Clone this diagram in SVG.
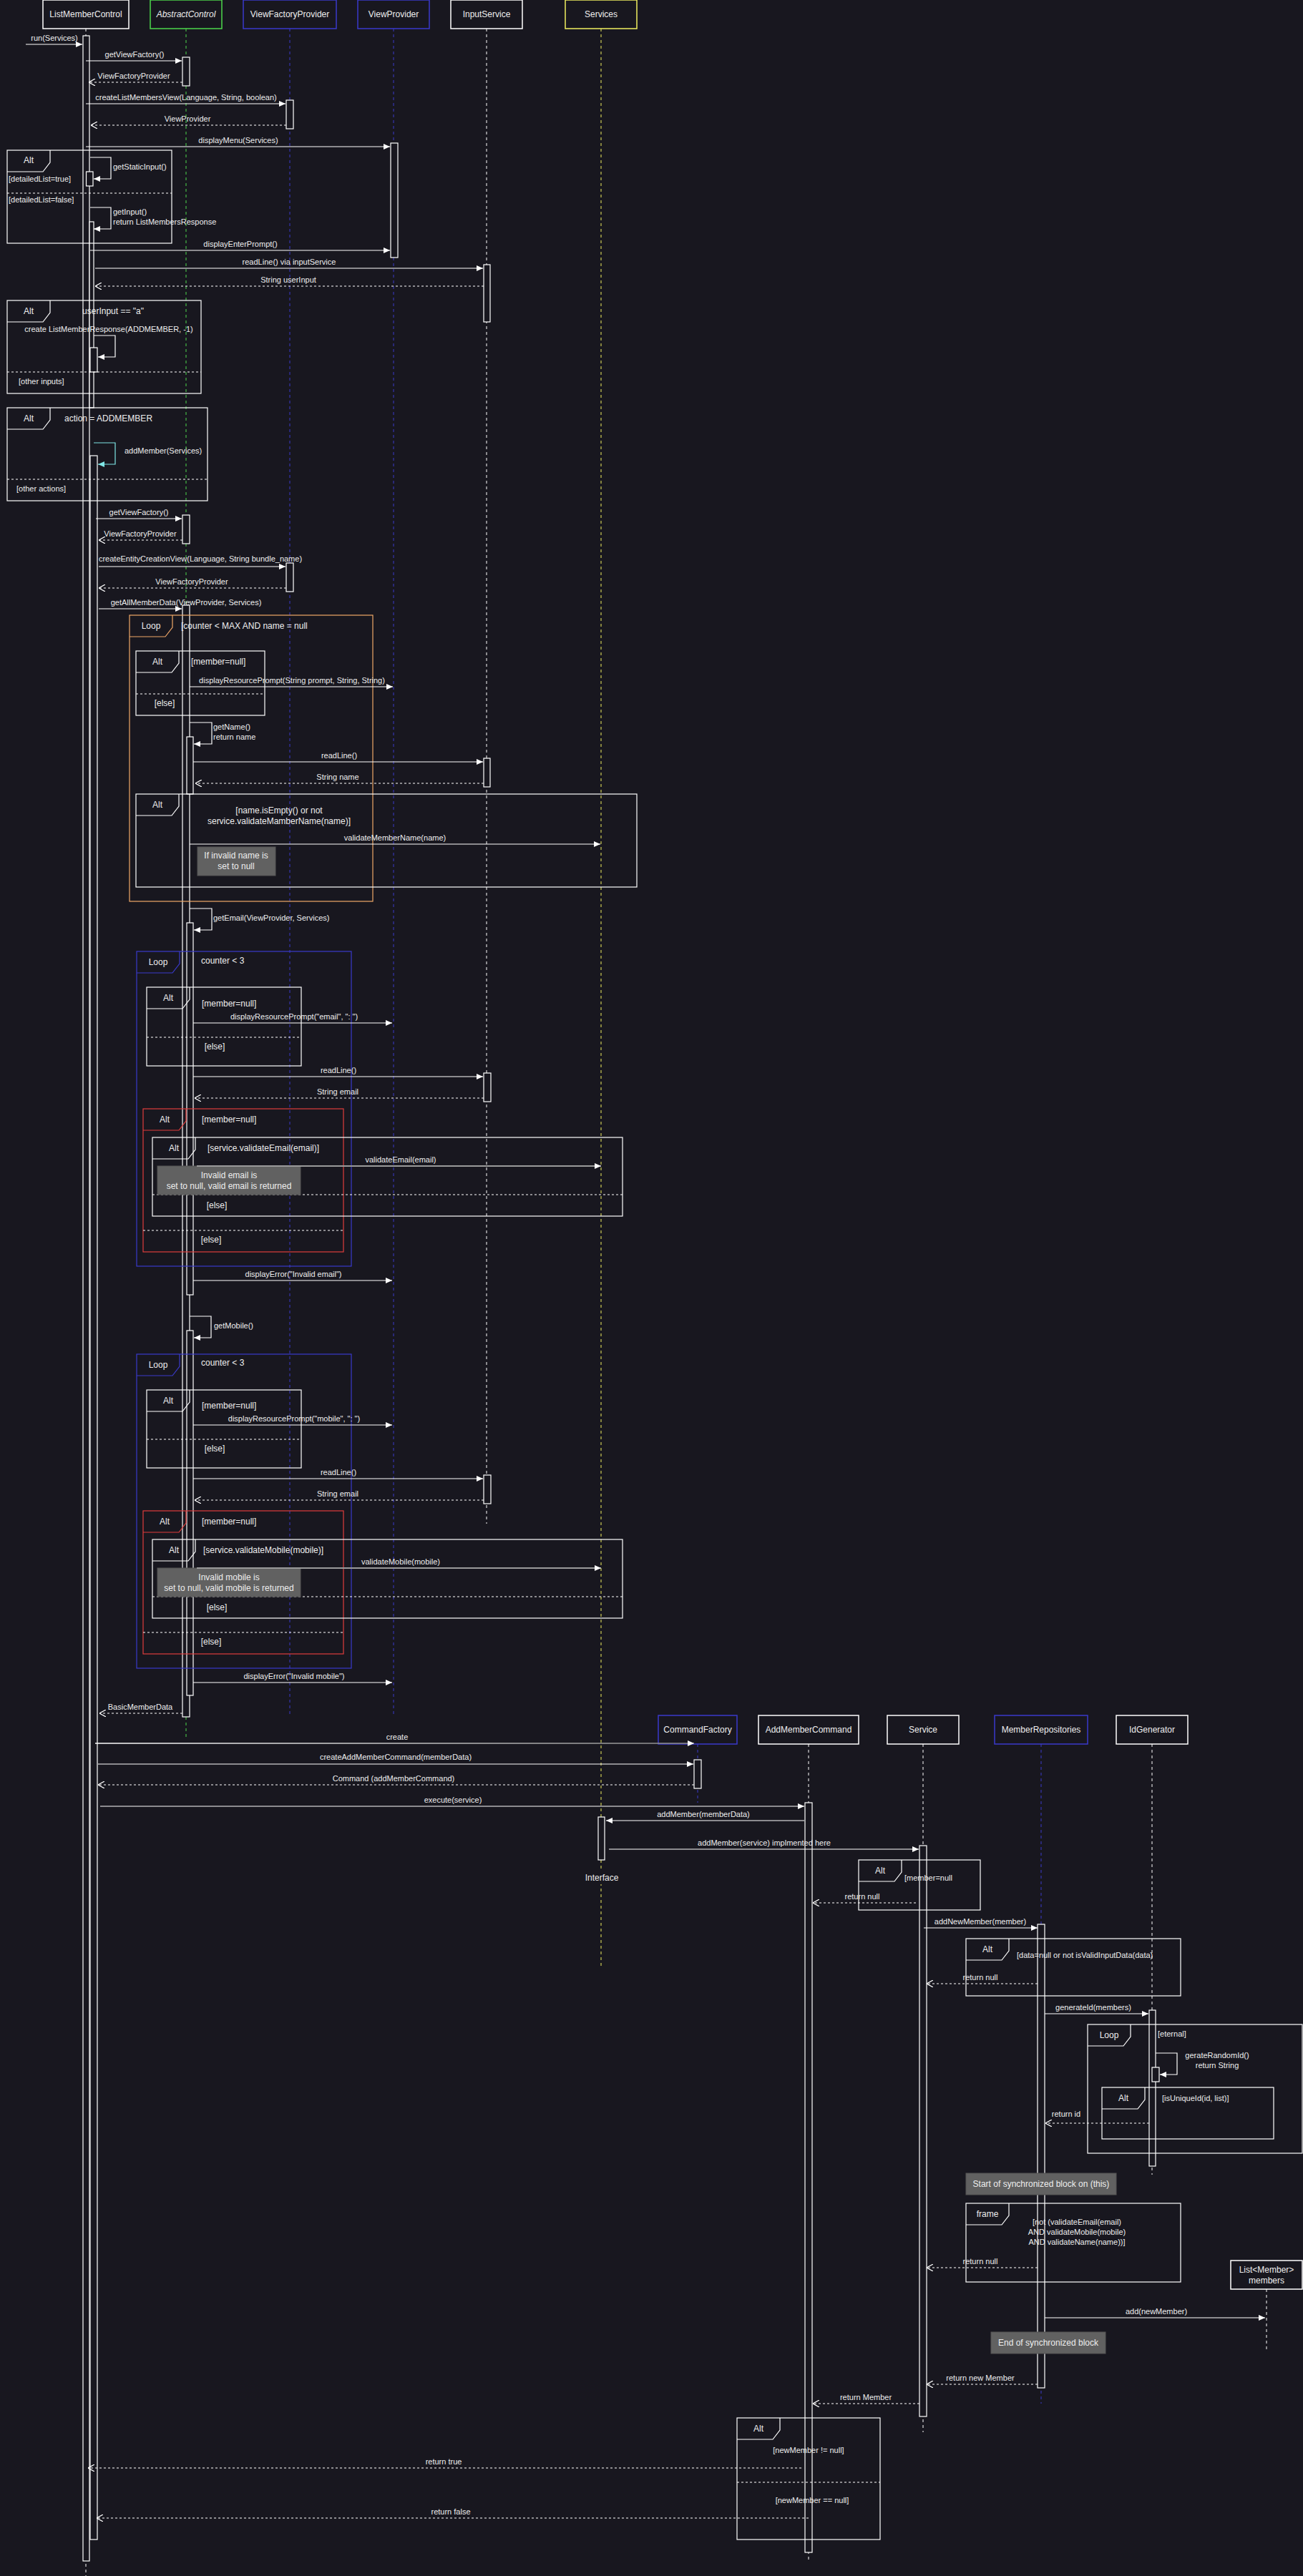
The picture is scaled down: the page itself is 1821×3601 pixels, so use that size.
<svg xmlns="http://www.w3.org/2000/svg" width="1821" height="3601" viewBox="0 0 1821 3601">
<defs>
<style>
text{font-family:"Liberation Sans",Arial,sans-serif;fill:#eeeeee}
.h{font-size:12px;text-anchor:middle}
.m{font-size:11px;text-anchor:middle}
.ms{font-size:11px}
.c{font-size:12px}
.cm{font-size:12px;text-anchor:middle}
.hdr{fill:#18171f;stroke-width:1.5}
.ll{stroke-dasharray:4 4;stroke-width:1;fill:none}
.act{fill:#18171f;stroke:#ffffff;stroke-width:1.2}
.fr{fill:none;stroke:#ffffff;stroke-width:1.2}
.sep{stroke:#ffffff;stroke-width:1.2;stroke-dasharray:3 3}
.msg{stroke:#ffffff;stroke-width:1.2;fill:none;marker-end:url(#solid)}
.ret{stroke:#ffffff;stroke-width:1.2;stroke-dasharray:3 3;fill:none;marker-end:url(#open)}
.note{fill:#616161;stroke:#555555}
</style>
<marker id="solid" markerWidth="9" markerHeight="8" refX="9" refY="4" orient="auto" markerUnits="userSpaceOnUse"><path d="M0,0 L9,4 L0,8 z" fill="#ffffff"/></marker>
<marker id="solidC" markerWidth="9" markerHeight="8" refX="9" refY="4" orient="auto" markerUnits="userSpaceOnUse"><path d="M0,0 L9,4 L0,8 z" fill="#7fe6e6"/></marker>
<marker id="open" markerWidth="9" markerHeight="10" refX="9" refY="5" orient="auto" markerUnits="userSpaceOnUse"><path d="M0,0 L9,5 L0,10" fill="none" stroke="#ffffff" stroke-width="1.2"/></marker>
<linearGradient id="gcreate" gradientUnits="userSpaceOnUse" x1="133" y1="0" x2="970" y2="0"><stop offset="0" stop-color="#ffffff"/><stop offset="1" stop-color="#8a8a8a"/></linearGradient>
</defs>
<rect x="0" y="0" width="1821" height="3601" fill="#18171f"/>

<!-- lifelines -->
<g id="node-ListMemberControl">
<line x1="120" y1="40" x2="120" y2="3601" class="ll" stroke="#ffffff"/>
<rect x="60" y="0" width="120" height="40" class="hdr" stroke="#ffffff"/>
<text x="120" y="24" class="h">ListMemberControl</text>
</g>
<g id="node-AbstractControl">
<line x1="260" y1="40" x2="260" y2="2430" class="ll" stroke="#4cd94c"/>
<rect x="210" y="0" width="100" height="40" class="hdr" stroke="#4cd94c"/>
<text x="260" y="24" class="h" font-style="italic">AbstractControl</text>
</g>
<g id="node-ViewFactoryProvider">
<line x1="405" y1="40" x2="405" y2="2400" class="ll" stroke="#3a3acc"/>
<rect x="340" y="0" width="130" height="40" class="hdr" stroke="#3a3acc"/>
<text x="405" y="24" class="h">ViewFactoryProvider</text>
</g>
<g id="node-ViewProvider">
<line x1="550" y1="40" x2="550" y2="2400" class="ll" stroke="#3a3acc"/>
<rect x="500" y="0" width="100" height="40" class="hdr" stroke="#3a3acc"/>
<text x="550" y="24" class="h">ViewProvider</text>
</g>
<g id="node-InputService">
<line x1="680" y1="40" x2="680" y2="2130" class="ll" stroke="#ffffff"/>
<rect x="630" y="0" width="100" height="40" class="hdr" stroke="#ffffff"/>
<text x="680" y="24" class="h">InputService</text>
</g>
<g id="node-Services">
<line x1="840" y1="40" x2="840" y2="2750" class="ll" stroke="#f0f060"/>
<rect x="790" y="0" width="100" height="40" class="hdr" stroke="#f0f060"/>
<text x="840" y="24" class="h">Services</text>
</g>
<g id="node-CommandFactory">
<line x1="975" y1="2438" x2="975" y2="2520" class="ll" stroke="#3a3acc"/>
<rect x="920" y="2398" width="110" height="40" class="hdr" stroke="#3a3acc"/>
<text x="975" y="2422" class="h">CommandFactory</text>
</g>
<g id="node-AddMemberCommand">
<line x1="1130" y1="2438" x2="1130" y2="3580" class="ll" stroke="#ffffff"/>
<rect x="1060" y="2398" width="140" height="40" class="hdr" stroke="#ffffff"/>
<text x="1130" y="2422" class="h">AddMemberCommand</text>
</g>
<g id="node-Service">
<line x1="1290" y1="2438" x2="1290" y2="3400" class="ll" stroke="#ffffff"/>
<rect x="1240" y="2398" width="100" height="40" class="hdr" stroke="#ffffff"/>
<text x="1290" y="2422" class="h">Service</text>
</g>
<g id="node-MemberRepositories">
<line x1="1455" y1="2438" x2="1455" y2="3360" class="ll" stroke="#3a3acc"/>
<rect x="1390" y="2398" width="130" height="40" class="hdr" stroke="#3a3acc"/>
<text x="1455" y="2422" class="h">MemberRepositories</text>
</g>
<g id="node-IdGenerator">
<line x1="1610" y1="2438" x2="1610" y2="3040" class="ll" stroke="#ffffff"/>
<rect x="1560" y="2398" width="100" height="40" class="hdr" stroke="#ffffff"/>
<text x="1610" y="2422" class="h">IdGenerator</text>
</g>
<g id="node-ListMembers">
<line x1="1770" y1="3200" x2="1770" y2="3287" class="ll" stroke="#ffffff"/>
<rect x="1720" y="3160" width="100" height="40" class="hdr" stroke="#ffffff"/>
<text x="1770" y="3177" class="h">List&lt;Member&gt;</text>
<text x="1770" y="3192" class="h">members</text>
</g>
<g id="node-Interface">
<rect x="812" y="2614" width="58" height="20" fill="#18171f"/>
<text x="841" y="2629" class="h">Interface</text>
</g>

<!-- activations -->
<g id="activations">
<rect x="116" y="50" width="9" height="3530" class="act"/>
<rect x="120.5" y="240" width="9.5" height="20" class="act"/>
<rect x="125" y="310" width="6" height="260" class="act"/>
<rect x="126" y="486" width="10" height="34" class="act"/>
<rect x="126" y="637" width="10" height="2913" class="act" stroke="#7fe6e6"/>
<rect x="255" y="80" width="10" height="40" class="act"/>
<rect x="400" y="140" width="10" height="40" class="act"/>
<rect x="546" y="200" width="10" height="160" class="act"/>
<rect x="676" y="370" width="9" height="80" class="act"/>
<rect x="255" y="720" width="10" height="40" class="act"/>
<rect x="400" y="787" width="10" height="40" class="act"/>
<rect x="255" y="846" width="10" height="1554" class="act"/>
<rect x="261" y="1030" width="9" height="80" class="act"/>
<rect x="676" y="1060" width="9" height="40" class="act"/>
<rect x="261" y="1290" width="9" height="520" class="act" stroke="#7fe6e6"/>
<rect x="676" y="1500" width="10" height="40" class="act"/>
<rect x="261" y="1860" width="9" height="510" class="act" stroke="#e0508a"/>
<rect x="676" y="2062" width="10" height="40" class="act"/>
<rect x="970" y="2460" width="10" height="40" class="act"/>
<rect x="1125" y="2520" width="10" height="1048" class="act"/>
<rect x="836" y="2540" width="9" height="60" class="act"/>
<rect x="1285" y="2580" width="10" height="798" class="act"/>
<rect x="1450" y="2690" width="10" height="648" class="act"/>
<rect x="1606" y="2810" width="9" height="218" class="act"/>
<rect x="1610" y="2890" width="10" height="20" class="act"/>
</g>

<!-- frames -->
<g id="frames">
<g id="f1"><rect x="10" y="210" width="230" height="130" class="fr"/><path d="M10,240 H60 L70,227 V210" class="fr"/><text x="40" y="228" class="h">Alt</text>
<line x1="10" y1="270" x2="240" y2="270" class="sep"/>
<text x="12" y="254" class="ms">[detailedList=true]</text><text x="12" y="283" class="ms">[detailedList=false]</text></g>
<g id="f2"><rect x="10" y="420" width="271" height="130" class="fr"/><path d="M10,450 H60 L70,437 V420" class="fr"/><text x="40" y="439" class="h">Alt</text>
<text x="158" y="439" class="cm">userInput == "a"</text>
<line x1="10" y1="520" x2="281" y2="520" class="sep"/><text x="26" y="537" class="ms">[other inputs]</text></g>
<g id="f3"><rect x="10" y="570" width="280" height="130" class="fr"/><path d="M10,600 H60 L70,587 V570" class="fr"/><text x="40" y="589" class="h">Alt</text>
<text x="90" y="589" class="c">action = ADDMEMBER</text>
<line x1="10" y1="670" x2="290" y2="670" class="sep"/><text x="23" y="687" class="ms">[other actions]</text></g>
<g id="f4"><rect x="181" y="860" width="340" height="400" fill="none" stroke="#f0a868" stroke-width="1.2"/><path d="M181,890 H231 L241,877 V860" fill="none" stroke="#f0a868" stroke-width="1.2"/><text x="211" y="879" class="h">Loop</text>
<text x="253" y="879" class="c">[counter &lt; MAX AND name = null</text></g>
<g id="f5"><rect x="190" y="910" width="180" height="90" class="fr"/><path d="M190,940 H240 L250,927 V910" class="fr"/><text x="220" y="929" class="h">Alt</text>
<text x="267" y="929" class="c">[member=null]</text>
<line x1="190" y1="970" x2="370" y2="970" class="sep"/><text x="230" y="987" class="cm">[else]</text></g>
<g id="f6"><rect x="190" y="1110" width="700" height="130" class="fr"/><path d="M190,1140 H240 L250,1127 V1110" class="fr"/><text x="220" y="1129" class="h">Alt</text>
<text x="390" y="1137" class="cm">[name.isEmpty() or not</text><text x="390" y="1152" class="cm">service.validateMamberName(name)]</text></g>
<g id="f7"><rect x="191" y="1330" width="300" height="440" fill="none" stroke="#3a3acc" stroke-width="1.2"/><path d="M191,1360 H241 L251,1347 V1330" fill="none" stroke="#3a3acc" stroke-width="1.2"/><text x="221" y="1349" class="h">Loop</text>
<text x="281" y="1347" class="c">counter &lt; 3</text></g>
<g id="f8"><rect x="205" y="1380" width="216" height="110" class="fr"/><path d="M205,1410 H255 L265,1397 V1380" class="fr"/><text x="235" y="1399" class="h">Alt</text>
<text x="282" y="1407" class="c">[member=null]</text>
<line x1="205" y1="1450" x2="421" y2="1450" class="sep"/><text x="300" y="1467" class="cm">[else]</text></g>
<g id="f9"><rect x="200" y="1550" width="280" height="200" fill="none" stroke="#e03c3c" stroke-width="1.2"/><path d="M200,1580 H250 L260,1567 V1550" fill="none" stroke="#e03c3c" stroke-width="1.2"/><text x="230" y="1569" class="h">Alt</text>
<text x="282" y="1569" class="c">[member=null]</text>
<line x1="200" y1="1720" x2="480" y2="1720" class="sep"/><text x="295" y="1737" class="cm">[else]</text></g>
<g id="f10"><rect x="213" y="1590" width="657" height="110" class="fr"/><path d="M213,1620 H263 L273,1607 V1590" class="fr"/><text x="243" y="1609" class="h">Alt</text>
<text x="290" y="1609" class="c">[service.validateEmail(email)]</text>
<line x1="213" y1="1670" x2="870" y2="1670" class="sep"/><text x="303" y="1689" class="cm">[else]</text></g>
<g id="f11"><rect x="191" y="1893" width="300" height="439" fill="none" stroke="#3a3acc" stroke-width="1.2"/><path d="M191,1923 H241 L251,1910 V1893" fill="none" stroke="#3a3acc" stroke-width="1.2"/><text x="221" y="1912" class="h">Loop</text>
<text x="281" y="1909" class="c">counter &lt; 3</text></g>
<g id="f12"><rect x="205" y="1943" width="216" height="109" class="fr"/><path d="M205,1973 H255 L265,1960 V1943" class="fr"/><text x="235" y="1962" class="h">Alt</text>
<text x="282" y="1969" class="c">[member=null]</text>
<line x1="205" y1="2012" x2="421" y2="2012" class="sep"/><text x="300" y="2029" class="cm">[else]</text></g>
<g id="f13"><rect x="200" y="2112" width="280" height="200" fill="none" stroke="#e03c3c" stroke-width="1.2"/><path d="M200,2142 H250 L260,2129 V2112" fill="none" stroke="#e03c3c" stroke-width="1.2"/><text x="230" y="2131" class="h">Alt</text>
<text x="282" y="2131" class="c">[member=null]</text>
<line x1="200" y1="2282" x2="480" y2="2282" class="sep"/><text x="295" y="2299" class="cm">[else]</text></g>
<g id="f14"><rect x="213" y="2152" width="657" height="110" class="fr"/><path d="M213,2182 H263 L273,2169 V2152" class="fr"/><text x="243" y="2171" class="h">Alt</text>
<text x="284" y="2171" class="c">[service.validateMobile(mobile)]</text>
<line x1="213" y1="2232" x2="870" y2="2232" class="sep"/><text x="303" y="2251" class="cm">[else]</text></g>
<g id="f15"><rect x="1200" y="2600" width="170" height="70" class="fr"/><path d="M1200,2630 H1250 L1260,2617 V2600" class="fr"/><text x="1230" y="2619" class="h">Alt</text>
<text x="1264" y="2629" class="ms">[member=null</text></g>
<g id="f16"><rect x="1350" y="2710" width="300" height="80" class="fr"/><path d="M1350,2740 H1400 L1410,2727 V2710" class="fr"/><text x="1380" y="2729" class="h">Alt</text>
<text x="1421" y="2737" class="ms">[data=null or not isValidInputData(data)</text></g>
<g id="f17"><rect x="1520" y="2830" width="300" height="180" class="fr"/><path d="M1520,2860 H1570 L1580,2847 V2830" class="fr"/><text x="1550" y="2849" class="h">Loop</text>
<text x="1618" y="2847" class="ms">[eternal]</text></g>
<g id="f18"><rect x="1540" y="2918" width="240" height="72" class="fr"/><path d="M1540,2948 H1590 L1600,2935 V2918" class="fr"/><text x="1570" y="2937" class="h">Alt</text>
<text x="1624" y="2937" class="ms">[isUniqueId(id, list)]</text></g>
<g id="f19"><rect x="1350" y="3080" width="300" height="110" class="fr"/><path d="M1350,3110 H1400 L1410,3097 V3080" class="fr"/><text x="1380" y="3099" class="h">frame</text>
<text x="1505" y="3110" class="m">[not (validateEmail(email)</text><text x="1505" y="3124" class="m">AND validateMobile(mobile)</text><text x="1505" y="3138" class="m">AND validateName(name))]</text></g>
<g id="f20"><rect x="1030" y="3380" width="200" height="170" class="fr"/><path d="M1030,3410 H1080 L1090,3397 V3380" class="fr"/><text x="1060" y="3399" class="h">Alt</text>
<text x="1130" y="3429" class="m">[newMember != null]</text>
<line x1="1030" y1="3470" x2="1230" y2="3470" class="sep"/><text x="1135" y="3499" class="m">[newMember == null]</text></g>
</g>

<!-- notes -->
<g id="notes">
<rect x="276" y="1184" width="109" height="40" class="note"/>
<text x="330" y="1200" class="cm">If invalid name is</text><text x="330" y="1215" class="cm">set to null</text>
<rect x="220" y="1630" width="200" height="40" class="note" fill="#6b6b6b"/>
<text x="320" y="1647" class="cm">Invalid email is</text><text x="320" y="1662" class="cm">set to null, valid email is returned</text>
<rect x="220" y="2192" width="200" height="40" class="note" fill="#6b6b6b"/>
<text x="320" y="2209" class="cm">Invalid mobile is</text><text x="320" y="2224" class="cm">set to null, valid mobile is returned</text>
<rect x="1350" y="3038" width="210" height="30" class="note"/>
<text x="1455" y="3057" class="cm">Start of synchronized block on (this)</text>
<rect x="1385" y="3260" width="160" height="30" class="note"/>
<text x="1465" y="3279" class="cm">End of synchronized block</text>
</g>

<!-- connectors -->
<g id="connectors">
<line x1="36" y1="62" x2="115" y2="62" class="msg"/><text x="76" y="57" class="m">run(Services)</text>
<line x1="120" y1="85" x2="254" y2="85" class="msg"/><text x="188" y="80" class="m">getViewFactory()</text>
<line x1="255" y1="115" x2="124" y2="115" class="ret"/><text x="187" y="110" class="m">ViewFactoryProvider</text>
<line x1="120" y1="145" x2="399" y2="145" class="msg"/><text x="260" y="140" class="m">createListMembersView(Language, String, boolean)</text>
<line x1="400" y1="175" x2="127" y2="175" class="ret"/><text x="262" y="170" class="m">ViewProvider</text>
<line x1="120" y1="205" x2="545" y2="205" class="msg"/><text x="333" y="200" class="m">displayMenu(Services)</text>
<path d="M126,220 H155 V250 H131" class="msg"/><text x="158" y="237" class="ms">getStaticInput()</text>
<path d="M126,290 H155 V320 H131" class="msg"/><text x="158" y="300" class="ms">getInput()</text><text x="158" y="314" class="ms">return ListMembersResponse</text>
<line x1="126" y1="350" x2="545" y2="350" class="msg"/><text x="336" y="345" class="m">displayEnterPrompt()</text>
<line x1="133" y1="375" x2="675" y2="375" class="msg"/><text x="404" y="370" class="m">readLine() via inputService</text>
<line x1="676" y1="400" x2="133" y2="400" class="ret"/><text x="403" y="395" class="m">String userInput</text>
<path d="M131,469 H161 V499 H137" class="msg"/><text x="152" y="464" class="m">create ListMemberResponse(ADDMEMBER, -1)</text>
<path d="M131,619 H161 V649 H137" fill="none" stroke="#7fe6e6" stroke-width="1.2" marker-end="url(#solidC)"/><text x="174" y="634" class="ms">addMember(Services)</text>
<line x1="134" y1="725" x2="254" y2="725" class="msg"/><text x="194" y="720" class="m">getViewFactory()</text>
<line x1="255" y1="755" x2="138" y2="755" class="ret"/><text x="196" y="750" class="m">ViewFactoryProvider</text>
<line x1="138" y1="792" x2="399" y2="792" class="msg"/><text x="280" y="785" class="m">createEntityCreationView(Language, String bundle_name)</text>
<line x1="400" y1="822" x2="138" y2="822" class="ret"/><text x="268" y="817" class="m">ViewFactoryProvider</text>
<line x1="138" y1="851" x2="254" y2="851" class="msg"/><text x="260" y="846" class="m">getAllMemberData(ViewProvider, Services)</text>
<line x1="265" y1="960" x2="549" y2="960" class="msg"/><text x="408" y="955" class="m">displayResourcePrompt(String prompt, String, String)</text>
<path d="M265,1010 H296 V1040 H271" class="msg"/><text x="298" y="1020" class="ms">getName()</text><text x="298" y="1034" class="ms">return name</text>
<line x1="270" y1="1065" x2="675" y2="1065" class="msg"/><text x="474" y="1060" class="m">readLine()</text>
<line x1="676" y1="1095" x2="273" y2="1095" class="ret"/><text x="472" y="1090" class="m">String name</text>
<line x1="265" y1="1180" x2="839" y2="1180" class="msg"/><text x="552" y="1175" class="m">validateMemberName(name)</text>
<path d="M265,1270 H296 V1300 H271" class="msg"/><text x="298" y="1287" class="ms">getEmail(ViewProvider, Services)</text>
<line x1="270" y1="1430" x2="548" y2="1430" class="msg"/><text x="411" y="1425" class="m">displayResourcePrompt("email", ": ")</text>
<line x1="270" y1="1505" x2="675" y2="1505" class="msg"/><text x="473" y="1500" class="m">readLine()</text>
<line x1="676" y1="1535" x2="272" y2="1535" class="ret"/><text x="472" y="1530" class="m">String email</text>
<line x1="275" y1="1630" x2="840" y2="1630" stroke="#9a9a9a" stroke-width="2" marker-end="url(#solid)"/><text x="560" y="1625" class="m">validateEmail(email)</text>
<line x1="270" y1="1790" x2="548" y2="1790" class="msg"/><text x="410" y="1785" class="m">displayError("Invalid email")</text>
<path d="M265,1840 H295 V1870 H271" class="msg"/><text x="299" y="1857" class="ms">getMobile()</text>
<line x1="270" y1="1992" x2="548" y2="1992" class="msg"/><text x="411" y="1987" class="m">displayResourcePrompt("mobile", ": ")</text>
<line x1="270" y1="2067" x2="675" y2="2067" class="msg"/><text x="473" y="2062" class="m">readLine()</text>
<line x1="676" y1="2097" x2="272" y2="2097" class="ret"/><text x="472" y="2092" class="m">String email</text>
<line x1="275" y1="2192" x2="840" y2="2192" stroke="#9a9a9a" stroke-width="2" marker-end="url(#solid)"/><text x="560" y="2187" class="m">validateMobile(mobile)</text>
<line x1="270" y1="2352" x2="548" y2="2352" class="msg"/><text x="411" y="2347" class="m">displayError("Invalid mobile")</text>
<line x1="255" y1="2395" x2="139" y2="2395" class="ret"/><text x="196" y="2390" class="m">BasicMemberData</text>
<line x1="133" y1="2437" x2="970" y2="2437" stroke="url(#gcreate)" stroke-width="1.5" marker-end="url(#solid)"/><text x="555" y="2432" class="m">create</text>
<line x1="137" y1="2466" x2="969" y2="2466" class="msg"/><text x="553" y="2460" class="m">createAddMemberCommand(memberData)</text>
<line x1="970" y1="2495" x2="137" y2="2495" class="ret"/><text x="550" y="2490" class="m">Command (addMemberCommand)</text>
<line x1="140" y1="2525" x2="1124" y2="2525" class="msg"/><text x="633" y="2520" class="m">execute(service)</text>
<line x1="1124" y1="2545" x2="847" y2="2545" class="msg"/><text x="983" y="2540" class="m">addMember(memberData)</text>
<line x1="851" y1="2585" x2="1284" y2="2585" class="msg"/><text x="1068" y="2580" class="m">addMember(service) implmented here</text>
<line x1="1280" y1="2660" x2="1136" y2="2660" class="ret"/><text x="1205" y="2655" class="m">return null</text>
<line x1="1291" y1="2695" x2="1450" y2="2695" class="msg"/><text x="1370" y="2690" class="m">addNewMember(member)</text>
<line x1="1450" y1="2773" x2="1295" y2="2773" class="ret"/><text x="1370" y="2768" class="m">return null</text>
<line x1="1460" y1="2815" x2="1605" y2="2815" class="msg"/><text x="1528" y="2810" class="m">generateId(members)</text>
<path d="M1615,2870 H1645 V2900 H1621" class="msg"/><text x="1701" y="2877" class="m">gerateRandomId()</text><text x="1701" y="2891" class="m">return String</text>
<line x1="1606" y1="2968" x2="1461" y2="2968" class="ret"/><text x="1490" y="2959" class="m">return id</text>
<line x1="1450" y1="3170" x2="1295" y2="3170" class="ret"/><text x="1370" y="3165" class="m">return null</text>
<line x1="1460" y1="3240" x2="1768" y2="3240" class="msg"/><text x="1616" y="3235" class="m">add(newMember)</text>
<line x1="1450" y1="3333" x2="1295" y2="3333" class="ret"/><text x="1370" y="3328" class="m">return new Member</text>
<line x1="1285" y1="3360" x2="1136" y2="3360" class="ret"/><text x="1210" y="3355" class="m">return Member</text>
<line x1="1120" y1="3450" x2="123" y2="3450" class="ret"/><text x="620" y="3445" class="m">return true</text>
<line x1="1130" y1="3520" x2="135" y2="3520" class="ret"/><text x="630" y="3515" class="m">return false</text>
</g>
</svg>
